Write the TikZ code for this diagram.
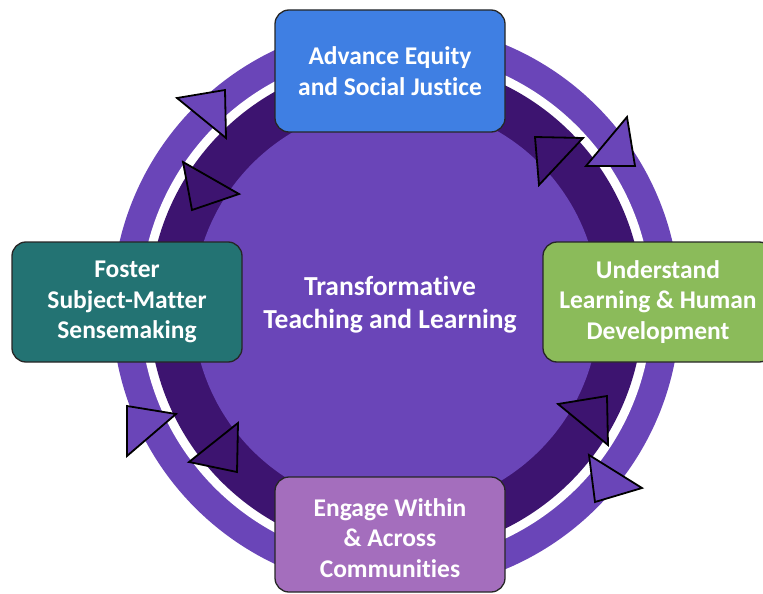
\documentclass[tikz,border=0pt]{standalone}
\usepackage{fontspec}
\setmainfont{Carlito}[Ligatures=NoCommon]
\definecolor{ringlight}{HTML}{6A45B8}
\definecolor{ringdark}{HTML}{3D1470}
\definecolor{boxblue}{HTML}{3F7FE3}
\definecolor{boxteal}{HTML}{237373}
\definecolor{boxgreen}{HTML}{8BBB5A}
\definecolor{boxorchid}{HTML}{A46EBD}
\begin{document}
\begin{tikzpicture}[x=1pt,y=-1pt,
  stagebox/.style={draw=black!85,line width=1.3pt,rounded corners=14pt,minimum width=230pt,
    text=white,font=\bfseries\fontsize{25.5}{30.5}\selectfont,align=center,inner sep=0pt},
  tri/.style={draw=black,line width=1.8pt,line join=miter},
  ctext/.style={text=white,font=\bfseries\fontsize{27.5}{33}\selectfont,align=center}]
\useasboundingbox (0,0) rectangle (763,594);
\begin{scope}
\clip (0,0) rectangle (763,594);
\coordinate (c) at (396,307);
\fill[ringlight] (c) circle[radius=284];
\fill[white] (c) circle[radius=256];
\fill[ringdark] (c) circle[radius=247];
\fill[ringlight] (c) circle[radius=203];
% triangles
\filldraw[tri,fill=ringlight] (177,98) -- (225,90) -- (226,138) -- cycle;
\filldraw[tri,fill=ringdark] (183,162) -- (239,194) -- (192,210) -- cycle;
\filldraw[tri,fill=ringdark] (535,137) -- (583,138) -- (539,185) -- cycle;
\filldraw[tri,fill=ringlight] (627,117) -- (635,166) -- (586,166) -- cycle;
\filldraw[tri,fill=ringdark] (558,404) -- (607,396) -- (608,445) -- cycle;
\filldraw[tri,fill=ringlight] (589,455) -- (642,488) -- (595,502) -- cycle;
\filldraw[tri,fill=ringlight] (127,406) -- (176,414) -- (127,456) -- cycle;
\filldraw[tri,fill=ringdark] (238,423) -- (237,472) -- (189,462) -- cycle;
% boxes
\node[stagebox,fill=boxblue,minimum height=122pt] (eq) at (390,71) {Advance Equity\\and Social Justice};
\node[stagebox,fill=boxteal,minimum height=120pt] (fs) at (127,302) {Foster\\Subject-Matter\\Sensemaking};
\node[stagebox,fill=boxgreen,minimum height=120pt] (ul) at (658,302) {Understand\\Learning \& Human\\Development};
\node[stagebox,fill=boxorchid,minimum height=115pt] (en) at (390,534.5) {};
\node[text=white,font=\bfseries\fontsize{25.5}{30.5}\selectfont,align=center] (ent) at (390,538) {Engage Within\\\& Across\\Communities};
\node[ctext] (tt) at (390,304.5) {Transformative\\Teaching and Learning};
\end{scope}
\end{tikzpicture}
\end{document}
